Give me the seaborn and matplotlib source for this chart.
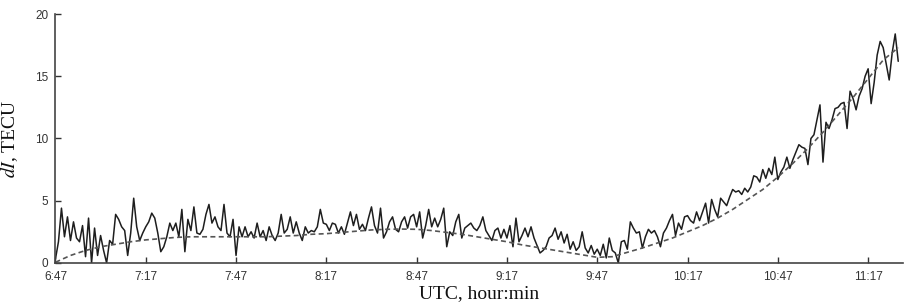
import numpy as np
import pandas as pd
import matplotlib
matplotlib.use("Agg")
import matplotlib.pyplot as plt
import seaborn as sns


# ============================================================
# DATA
# ============================================================
# dI samples, one per minute starting at 6:47 UTC
dI = [
    0.3, 1.7, 4.4, 2.1, 3.7, 1.8, 3.3, 2.0, 1.7, 3.0,
    0.5, 3.6, 0.0, 2.8, 0.6, 2.2, 1.0, 0.0, 1.8, 1.5,
    3.9, 3.5, 2.9, 2.6, 0.6, 2.4, 5.2, 2.9, 1.8, 2.4,
    2.9, 3.3, 4.0, 3.6, 2.4, 0.9, 1.3, 2.1, 3.2, 2.6,
    3.2, 2.1, 4.3, 0.9, 3.5, 2.6, 4.5, 2.4, 2.3, 2.7,
    3.9, 4.7, 3.2, 3.7, 2.9, 2.6, 4.7, 2.4, 2.1, 3.5,
    0.6, 2.9, 2.1, 2.9, 2.1, 2.5, 2.0, 3.2, 2.1, 2.6,
    1.8, 2.9, 2.2, 1.8, 2.4, 3.9, 2.4, 2.7, 3.7, 2.4,
    3.3, 2.4, 1.8, 2.9, 2.4, 2.6, 2.5, 2.9, 4.3, 3.2,
    3.1, 2.6, 3.2, 3.1, 2.4, 2.9, 2.3, 3.2, 4.1, 3.0,
    3.9, 2.7, 3.1, 2.6, 3.6, 4.5, 3.0, 2.4, 4.4, 2.0,
    2.5, 3.3, 3.7, 2.7, 2.5, 3.3, 3.7, 2.8, 3.7, 3.9,
    2.9, 4.1, 2.0, 3.0, 4.3, 2.9, 3.6, 2.9, 3.5, 4.4,
    1.3, 2.5, 2.2, 3.3, 3.9, 2.0, 2.8, 3.0, 3.2, 2.8,
    2.6, 3.0, 3.7, 2.6, 2.2, 1.8, 2.6, 2.8, 2.0, 2.7,
    2.0, 3.0, 1.3, 3.6, 1.7, 2.2, 2.8, 2.1, 2.9, 2.0,
    1.4, 0.8, 1.0, 1.3, 2.0, 2.2, 2.8, 1.9, 2.5, 1.6,
    2.3, 1.1, 1.7, 1.0, 1.3, 2.5, 1.2, 0.8, 1.4, 0.7,
    1.1, 0.6, 1.5, 0.4, 2.0, 1.0, 0.8, 0.0, 1.7, 1.8,
    1.1, 3.3, 2.8, 2.4, 2.5, 1.2, 2.1, 2.7, 2.4, 2.6,
    2.1, 1.3, 2.4, 2.8, 3.4, 3.9, 2.2, 3.2, 2.7, 3.7,
    3.8, 3.4, 3.2, 4.1, 3.4, 4.1, 4.8, 3.2, 5.1, 4.3,
    3.7, 5.2, 4.9, 4.6, 5.3, 5.9, 5.7, 5.8, 5.5, 6.0,
    5.7, 6.1, 7.0, 6.9, 6.5, 7.5, 6.8, 7.6, 7.1, 8.5,
    6.7, 7.3, 7.7, 8.5, 7.6, 8.3, 8.9, 9.5, 9.3, 9.2,
    7.9, 10.0, 10.3, 11.5, 12.7, 8.1, 11.3, 10.8, 11.5, 12.4,
    12.5, 12.8, 12.9, 10.8, 13.8, 13.2, 12.3, 13.4, 14.0, 15.0,
    15.6, 12.8, 14.5, 16.7, 17.8, 17.3, 16.0, 14.7, 16.9, 18.4,
    16.2,
]

# smooth trend, one value every 5 minutes from 6:47
trend = [
    0.05, 0.6, 1.0, 1.3, 1.5, 1.7, 1.85, 1.95, 2.05, 2.1,
    2.1, 2.1, 2.1, 2.1, 2.1, 2.15, 2.2, 2.3, 2.35, 2.45,
    2.55, 2.65, 2.7, 2.72, 2.7, 2.6, 2.45, 2.3, 2.1, 1.9,
    1.7, 1.45, 1.25, 1.05, 0.85, 0.65, 0.45, 0.5, 0.85, 1.2,
    1.6, 2.0, 2.5, 3.0, 3.6, 4.3, 5.1, 5.9, 6.9, 8.0,
    9.2, 10.5, 11.9, 13.3, 14.8, 16.3, 17.3,
]

tick_labels = ["6:47", "7:17", "7:47", "8:17", "8:47",
               "9:17", "9:47", "10:17", "10:47", "11:17"]

df_raw = pd.DataFrame({"t": np.arange(len(dI)), "dI": dI})
df_trend = pd.DataFrame({"t": np.arange(len(trend)) * 5, "dI": trend})


# ============================================================
# PLOT
# ============================================================
sns.set_style("ticks")
plt.rcParams["font.family"] = ["Liberation Sans", "DejaVu Sans"]
plt.rcParams["mathtext.fontset"] = "stix"

fig = plt.figure(figsize=(9.24, 3.05), dpi=100)
ax = fig.add_axes([0.06, 0.138, 0.917, 0.816])

sns.lineplot(data=df_raw, x="t", y="dI", ax=ax, color="#1e1e1e", linewidth=1.1)
sns.lineplot(data=df_trend, x="t", y="dI", ax=ax, color="#555555",
             linewidth=1.2, linestyle=(0, (3, 2)))

ax.set_xlim(0, 281.5)
ax.set_ylim(0, 20)
ax.set_xticks(np.arange(len(tick_labels)) * 30)
ax.set_xticklabels(tick_labels)
ax.set_yticks([0, 5, 10, 15, 20])

ax.tick_params(direction="in", length=4, width=1, colors="#333333",
               labelsize=8.5)
ax.tick_params(axis="x", pad=6)
ax.tick_params(axis="y", pad=5)
for s in ["top", "right"]:
    ax.spines[s].set_visible(False)
for s in ["left", "bottom"]:
    ax.spines[s].set_color("#444444")
    ax.spines[s].set_linewidth(1.2)

ax.set_xlabel("UTC, hour:min", family="Liberation Serif", fontsize=14,
              color="#111111", labelpad=1)
ax.set_ylabel(r"$dI$, TECU", family="Liberation Serif", fontsize=14,
              color="#111111", labelpad=11)

fig.savefig("out.png", dpi=100)
